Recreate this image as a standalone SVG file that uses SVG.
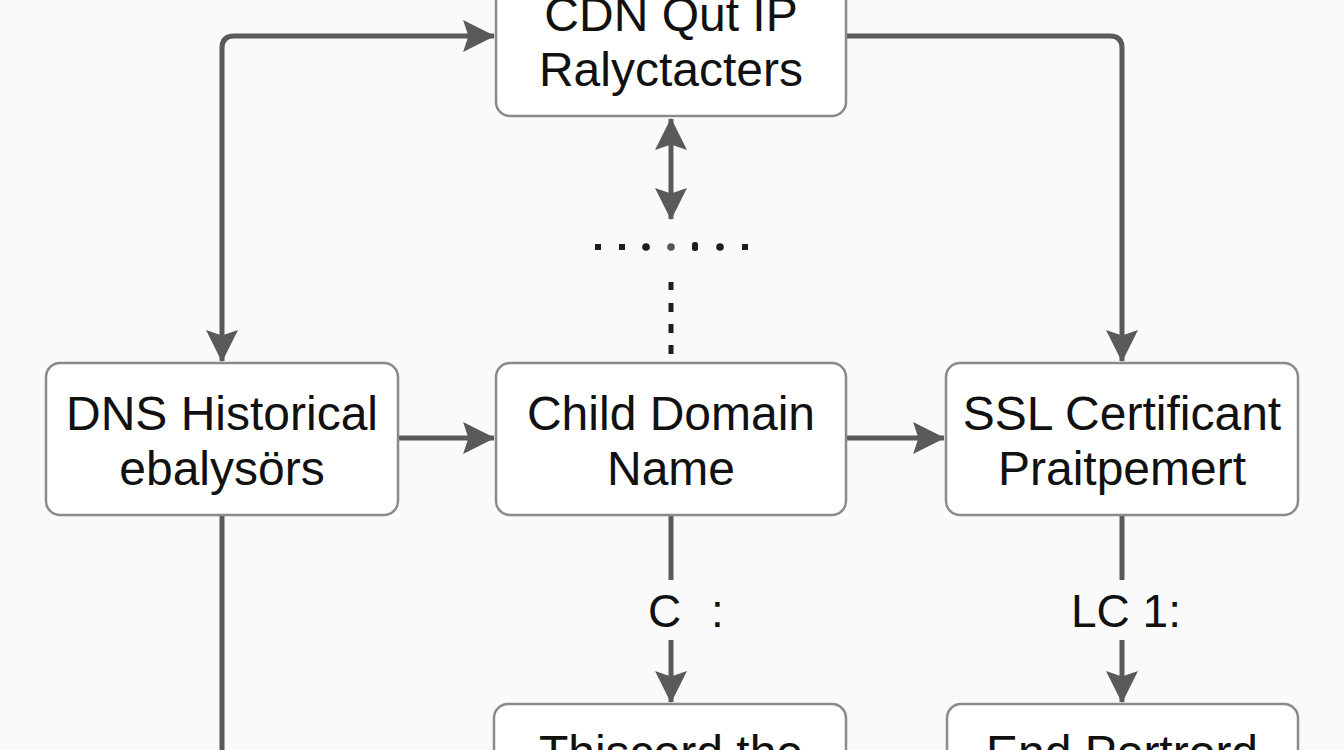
<svg xmlns="http://www.w3.org/2000/svg" width="1344" height="750" viewBox="0 0 1344 750">
<defs>
<style>
.node rect{fill:#ffffff;stroke:#8a8a8a;stroke-width:2.5}
.node text{font-family:"Liberation Sans",Arial,sans-serif;font-size:48px;fill:#111;text-anchor:middle}
.lbl{font-family:"Liberation Sans",Arial,sans-serif;font-size:46px;fill:#111}
.conn{fill:none;stroke:#5a5a5a;stroke-width:5}
.dot{fill:#1e1e1e}
</style>
<marker id="ah" markerUnits="userSpaceOnUse" viewBox="0 0 30 30" markerWidth="32" markerHeight="32" refX="29" refY="15" orient="auto-start-reverse">
<path d="M0,0 L30,15 L0,30 L5,15 z" fill="#5a5a5a"/>
</marker>
</defs>
<rect x="0" y="0" width="1344" height="750" fill="#fafafa"/>

<g id="connectors">
<path class="conn" d="M222,515 L222,750"/>
<path class="conn" d="M222,361 L222,48 Q222,36 234,36 L494,36" marker-start="url(#ah)" marker-end="url(#ah)"/>
<path class="conn" d="M846,36 L1110,36 Q1122,36 1122,48 L1122,361" marker-end="url(#ah)"/>
<path class="conn" d="M671,119 L671,219" marker-start="url(#ah)" marker-end="url(#ah)"/>
<path class="conn" d="M398,438 L494,438" marker-end="url(#ah)"/>
<path class="conn" d="M846,438 L944,438" marker-end="url(#ah)"/>
<path class="conn" d="M671,515 L671,580"/>
<path class="conn" d="M671,640 L671,702" marker-end="url(#ah)"/>
<path class="conn" d="M1122,515 L1122,580"/>
<path class="conn" d="M1122,640 L1122,702" marker-end="url(#ah)"/>
<g id="dots">
<rect class="dot" x="595" y="244" width="6" height="6"/>
<rect class="dot" x="619" y="244" width="6" height="6"/>
<circle class="dot" cx="646" cy="247" r="3.8"/>
<circle cx="671" cy="247" r="3.8" fill="#555"/>
<rect class="dot" x="692" y="242" width="6" height="9" rx="2.5"/>
<circle class="dot" cx="720" cy="247" r="3.8"/>
<rect class="dot" x="742" y="244" width="6" height="6"/>
<rect class="dot" x="668.5" y="282" width="5" height="8"/>
<rect class="dot" x="668.5" y="303" width="5" height="9"/>
<rect class="dot" x="668.5" y="324" width="5" height="9"/>
<rect class="dot" x="668.5" y="345" width="5" height="9"/>
</g>
<text class="lbl" x="648" y="627">C<tspan x="711">:</tspan></text>
<text class="lbl" x="1071" y="627">LC 1:</text>
</g>

<g id="node-cdn" class="node">
<rect x="496" y="-36" width="350" height="152" rx="14"/>
<text x="671" y="31">CDN Qut IP</text>
<text x="671" y="86">Ralyctacters</text>
</g>
<g id="node-dns" class="node">
<rect x="46" y="363" width="352" height="152" rx="14"/>
<text x="222" y="430">DNS Historical</text>
<text x="222" y="485">ebalysörs</text>
</g>
<g id="node-child" class="node">
<rect x="496" y="363" width="350" height="152" rx="14"/>
<text x="671" y="430">Child Domain</text>
<text x="671" y="485">Name</text>
</g>
<g id="node-ssl" class="node">
<rect x="946" y="363" width="352" height="152" rx="14"/>
<text x="1122" y="430">SSL Certificant</text>
<text x="1122" y="485">Praitpemert</text>
</g>
<g id="node-thiscord" class="node">
<rect x="494" y="704" width="352" height="152" rx="14"/>
<text x="671" y="769">Thiscord the</text>
</g>
<g id="node-end" class="node">
<rect x="947" y="704" width="351" height="152" rx="14"/>
<text x="1122" y="769">End Portrord</text>
</g>
</svg>
